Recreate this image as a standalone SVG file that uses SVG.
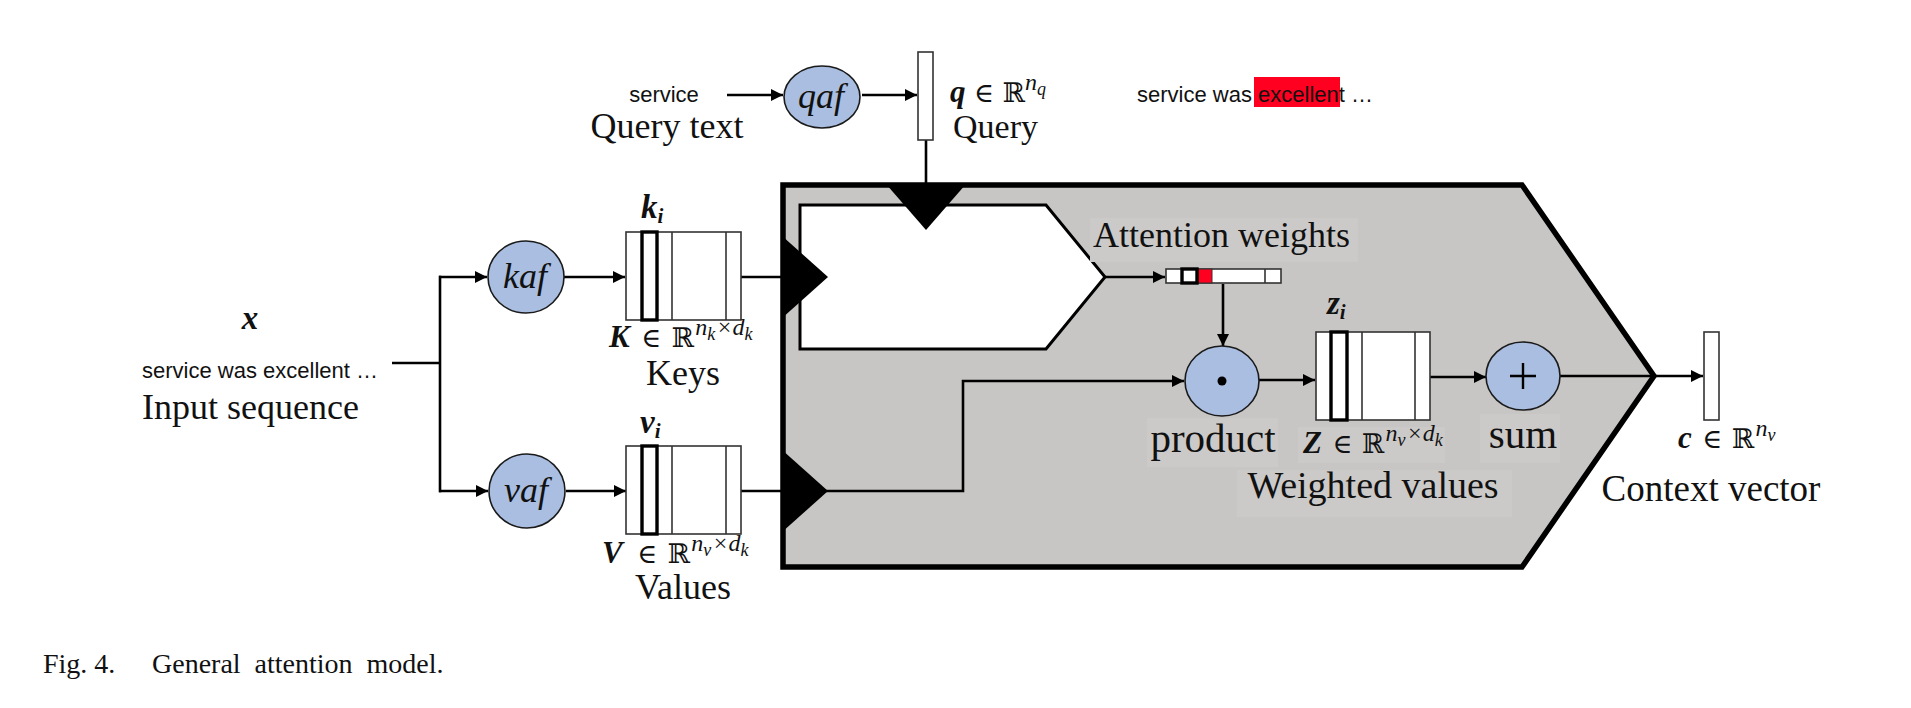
<svg xmlns="http://www.w3.org/2000/svg" width="1911" height="708" viewBox="0 0 1911 708">
<defs>
<style>
.t{font-family:"Liberation Serif","Times New Roman",serif;font-size:36px;fill:#111}
.big{font-size:41px}
.mid{font-size:38px}
.cap{font-size:28px}
.a{font-family:"Liberation Sans",Arial,sans-serif;font-size:22px;fill:#111}
.m{font-family:"Liberation Serif","DejaVu Serif",serif;font-size:31px;fill:#111}
.bi{font-weight:bold;font-style:italic}
.sym{font-family:"DejaVu Serif","DejaVu Sans",serif;font-size:27px}
.sp{font-style:italic;font-size:24px}
.ss{font-style:italic;font-size:18px}
.si{font-weight:bold;font-style:italic;font-size:21px}
.ln{fill:none;stroke:#000;stroke-width:2.6}
.arr{fill:none;stroke:#000;stroke-width:2.6;marker-end:url(#ah)}
.ell{fill:#a9bee0;stroke:#1a1a1a;stroke-width:1.6}
.ef{font-family:"Liberation Serif","Times New Roman",serif;font-style:italic;font-size:36px;fill:#111}
.box{fill:#fff;stroke:#333;stroke-width:1.6}
.col{fill:#fff;stroke:#000;stroke-width:3.4}
.vl{stroke:#333;stroke-width:1.6}
.tri{fill:#000}
.lb{fill:#cccac9}
</style>
<marker id="ah" viewBox="0 0 10 10" refX="10" refY="5" markerUnits="userSpaceOnUse" markerWidth="15" markerHeight="12" orient="auto">
<path d="M0,0 L10,5 L0,10 z" fill="#000"/>
</marker>
</defs>
<rect width="1911" height="708" fill="#fff"/>

<g id="attention-block">
<polygon points="783,185 1522,185 1654,376 1522,567 783,567" fill="#c8c6c4" stroke="#000" stroke-width="5.5" stroke-linejoin="miter"/>
<polygon points="800,205 1046,205 1105,277 1046,349 800,349" fill="#fff" stroke="#000" stroke-width="3"/>
<rect class="lb" x="1090" y="218" width="268" height="44"/>
<rect class="lb" x="1147" y="418" width="131" height="49"/>
<rect class="lb" x="1298" y="427" width="147" height="36"/>
<rect class="lb" x="1237" y="470" width="275" height="47"/>
<rect class="lb" x="1480" y="414" width="80" height="49"/>
</g>

<g id="connectors">
<line class="arr" x1="727" y1="95" x2="783" y2="95"/>
<line class="arr" x1="862" y1="95" x2="917" y2="95"/>
<line class="ln" x1="926" y1="140" x2="926" y2="190"/>
<polyline class="ln" points="392,363 440,363"/>
<line class="ln" x1="440" y1="275.7" x2="440" y2="492.3"/>
<line class="arr" x1="439" y1="277" x2="487" y2="277"/>
<line class="arr" x1="439" y1="491" x2="488" y2="491"/>
<line class="arr" x1="564" y1="277" x2="625" y2="277"/>
<line class="arr" x1="566" y1="491" x2="626" y2="491"/>
<line class="ln" x1="741" y1="277" x2="786" y2="277"/>
<line class="ln" x1="741" y1="491" x2="786" y2="491"/>
<polyline class="arr" points="826,491 963,491 963,381 1184,381"/>
<line class="arr" x1="1105" y1="277" x2="1165" y2="277"/>
<line class="arr" x1="1223" y1="284" x2="1223" y2="346"/>
<line class="arr" x1="1259" y1="380" x2="1315" y2="380"/>
<line class="arr" x1="1430" y1="377" x2="1486" y2="377"/>
<line class="ln" x1="1560" y1="376" x2="1654" y2="376"/>
<line class="arr" x1="1652" y1="376" x2="1703" y2="376"/>
</g>

<g id="query-text">
<text class="a" x="664" y="102" text-anchor="middle">service</text>
<text class="t" x="667" y="138" text-anchor="middle">Query text</text>
</g>

<g id="qaf">
<ellipse class="ell" cx="822" cy="97" rx="38" ry="31"/>
<text class="ef" x="821" y="108" text-anchor="middle">qaf</text>
</g>

<g id="query">
<rect class="box" x="918" y="52" width="15" height="88"/>
<text class="m" x="950" y="102"><tspan class="bi">q</tspan><tspan class="sym"> ∈ </tspan><tspan class="sym">ℝ</tspan><tspan class="sp" dy="-12">n</tspan><tspan class="ss" dy="5">q</tspan></text>
<text class="t" x="953" y="138" style="font-size:34px">Query</text>
</g>

<g id="highlighted-sentence">
<rect x="1254" y="77" width="86" height="30" fill="#ff0020"/>
<text class="a" x="1137" y="102">service was excellent …</text>
</g>

<g id="input-sequence">
<text class="m bi" x="250" y="329" text-anchor="middle" style="font-size:33px">x</text>
<text class="a" x="142" y="378">service was excellent …</text>
<text class="t" x="142" y="419">Input sequence</text>
</g>

<g id="kaf">
<ellipse class="ell" cx="526" cy="277" rx="38" ry="36"/>
<text class="ef" x="525" y="288" text-anchor="middle">kaf</text>
</g>

<g id="vaf">
<ellipse class="ell" cx="527" cy="491" rx="38" ry="37"/>
<text class="ef" x="526" y="502" text-anchor="middle">vaf</text>
</g>

<g id="keys">
<rect class="box" x="626" y="232" width="115" height="88"/>
<line class="vl" x1="672" y1="232" x2="672" y2="320"/>
<line class="vl" x1="726" y1="232" x2="726" y2="320"/>
<rect class="col" x="642" y="232" width="15" height="88"/>
<text class="m" x="641" y="218" style="font-size:33px"><tspan class="bi">k</tspan><tspan class="si" dy="5">i</tspan></text>
<text class="m" x="609" y="347"><tspan class="bi">K</tspan><tspan class="sym" dx="3"> ∈ </tspan><tspan class="sym" dx="2">ℝ</tspan><tspan class="sp" dy="-12" dx="1">n</tspan><tspan class="ss" dy="5">k</tspan><tspan class="sp" dy="-5" dx="1">×d</tspan><tspan class="ss" dy="5">k</tspan></text>
<text class="t" x="683" y="385" text-anchor="middle">Keys</text>
</g>

<g id="values">
<rect class="box" x="626" y="446" width="115" height="88"/>
<line class="vl" x1="672" y1="446" x2="672" y2="534"/>
<line class="vl" x1="726" y1="446" x2="726" y2="534"/>
<rect class="col" x="642" y="446" width="15" height="88"/>
<text class="m" x="640" y="433" style="font-size:33px"><tspan class="bi">v</tspan><tspan class="si" dy="5">i</tspan></text>
<text class="m" x="602" y="563"><tspan class="bi">V</tspan><tspan class="sym" dx="6"> ∈ </tspan><tspan class="sym" dx="2">ℝ</tspan><tspan class="sp" dy="-12" dx="1">n</tspan><tspan class="ss" dy="5">v</tspan><tspan class="sp" dy="-5" dx="1">×d</tspan><tspan class="ss" dy="5">k</tspan></text>
<text class="t" x="683" y="599" text-anchor="middle">Values</text>
</g>

<g id="ports">
<polygon class="tri" points="886,184 966,184 926,230"/>
<polygon class="tri" points="781,235 828,277 781,319"/>
<polygon class="tri" points="781,449 828,491 781,533"/>
</g>

<g id="attention-weights">
<text class="t" x="1093" y="247">Attention weights</text>
<rect class="box" x="1166" y="269" width="115" height="14"/>
<line class="vl" x1="1265" y1="269" x2="1265" y2="283"/>
<rect x="1198" y="269" width="14" height="14" fill="#ff0020" stroke="#333" stroke-width="1"/>
<rect class="col" x="1182" y="269" width="15" height="14"/>
</g>

<g id="product">
<ellipse class="ell" cx="1222" cy="381" rx="37" ry="35"/>
<circle cx="1222" cy="381" r="4.5" fill="#000"/>
<text class="t big" x="1213" y="452" text-anchor="middle">product</text>
</g>

<g id="weighted-values">
<rect class="box" x="1316" y="332" width="114" height="88"/>
<line class="vl" x1="1362" y1="332" x2="1362" y2="420"/>
<line class="vl" x1="1415" y1="332" x2="1415" y2="420"/>
<rect class="col" x="1331" y="332" width="16" height="88"/>
<text class="m" x="1327" y="314" style="font-size:33px"><tspan class="bi">z</tspan><tspan class="si" dy="5">i</tspan></text>
<text class="m" x="1303" y="453"><tspan class="bi">Z</tspan><tspan class="sym" dx="2"> ∈ </tspan><tspan class="sym" dx="1">ℝ</tspan><tspan class="sp" dy="-12" dx="1">n</tspan><tspan class="ss" dy="5">v</tspan><tspan class="sp" dy="-5" dx="1">×d</tspan><tspan class="ss" dy="5">k</tspan></text>
<text class="t mid" x="1373" y="498" text-anchor="middle">Weighted values</text>
</g>

<g id="sum">
<ellipse class="ell" cx="1523" cy="376" rx="37" ry="34"/>
<path d="M1510,376 H1536 M1523,363 V389" stroke="#000" stroke-width="2.4"/>
<text class="t big" x="1523" y="448" text-anchor="middle">sum</text>
</g>

<g id="context-vector">
<rect class="box" x="1704" y="332" width="15" height="88"/>
<text class="m" x="1678" y="448"><tspan class="bi">c</tspan><tspan class="sym" dx="2"> ∈ </tspan><tspan class="sym" dx="1">ℝ</tspan><tspan class="sp" dy="-12" dx="1">n</tspan><tspan class="ss" dy="5">v</tspan></text>
<text class="t" x="1711" y="501" text-anchor="middle" style="font-size:37px">Context vector</text>
</g>

<g id="caption">
<text class="t cap" x="43" y="673">Fig. 4.</text>
<text class="t cap" x="152" y="673" word-spacing="7">General attention model.</text>
</g>
</svg>
